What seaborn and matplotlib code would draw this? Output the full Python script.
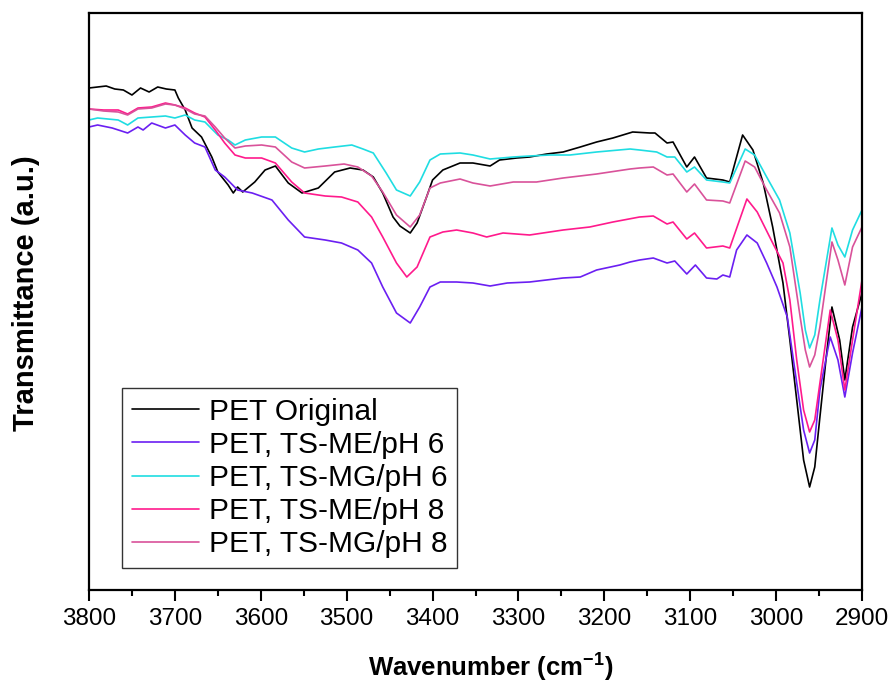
import matplotlib
matplotlib.use("Agg")
import matplotlib.pyplot as plt
from matplotlib.ticker import MultipleLocator
import pandas as pd
import seaborn as sns

# sample names and line colours (legend order)
labels = ["PET Original", "PET, TS-ME/pH 6", "PET, TS-MG/pH 6",
          "PET, TS-ME/pH 8", "PET, TS-MG/pH 8"]
colors = ["#000000", "#6B1FF2", "#1FDDE2", "#FF1A8C", "#D9529A"]

# spectra (wavenumber cm-1, transmittance a.u.)
wn_orig = [3800, 3790, 3780, 3770, 3760, 3750, 3740, 3730, 3720, 3710,
           3700, 3696, 3688, 3680, 3669, 3657, 3650, 3638, 3632, 3627,
           3621, 3607, 3595, 3583, 3568, 3552, 3533, 3514, 3496, 3481,
           3469, 3458, 3446, 3438, 3426, 3418, 3407, 3400, 3388, 3368,
           3353, 3333, 3322, 3302, 3287, 3267, 3248, 3228, 3209, 3190,
           3167, 3147, 3141, 3127, 3120, 3104, 3095, 3081, 3062, 3054,
           3039, 3027, 3015, 3004, 2992, 2984, 2976, 2968, 2961, 2955,
           2949, 2942, 2935, 2926, 2920, 2911, 2900]
t_orig = [502, 503, 504, 501, 500, 495, 502, 498, 503, 501,
          500, 492, 480, 462, 453, 433, 418, 405, 397, 403,
          398, 408, 420, 424, 407, 397, 402, 418, 422, 420,
          413, 397, 373, 364, 357, 367, 393, 410, 420, 427,
          427, 424, 430, 432, 433, 436, 438, 443, 448, 452,
          458, 457, 457, 447, 448, 423, 433, 412, 410, 408,
          455, 440, 407, 363, 307, 250, 190, 130, 103, 123,
          173, 230, 283, 250, 210, 263, 297]

wn_me6 = [3800, 3790, 3773, 3755, 3743, 3737, 3727, 3711, 3700, 3688,
          3677, 3665, 3653, 3642, 3627, 3610, 3587, 3568, 3549, 3525,
          3506, 3487, 3471, 3458, 3442, 3426, 3415, 3403, 3391, 3372,
          3353, 3333, 3313, 3287, 3248, 3228, 3209, 3182, 3170, 3159,
          3143, 3127, 3118, 3104, 3094, 3081, 3069, 3062, 3054, 3046,
          3034, 3022, 3011, 2999, 2987, 2976, 2968, 2961, 2955, 2949,
          2937, 2928, 2920, 2911, 2900]
t_me6 = [463, 465, 462, 457, 463, 460, 467, 462, 465, 455,
         447, 443, 420, 413, 400, 397, 390, 370, 353, 350,
         347, 340, 327, 303, 277, 267, 283, 303, 308, 308,
         307, 304, 307, 308, 312, 313, 320, 325, 328, 330,
         332, 327, 329, 316, 325, 312, 311, 315, 313, 340,
         355, 347, 327, 303, 273, 207, 160, 137, 150, 200,
         253, 230, 193, 237, 283]

wn_mg6 = [3800, 3790, 3766, 3755, 3743, 3727, 3711, 3700, 3688, 3677,
          3665, 3650, 3638, 3630, 3618, 3599, 3583, 3564, 3549, 3533,
          3514, 3494, 3481, 3469, 3454, 3442, 3426, 3415, 3403, 3391,
          3368, 3353, 3333, 3306, 3287, 3263, 3240, 3209, 3170, 3159,
          3139, 3127, 3118, 3104, 3095, 3081, 3062, 3054, 3036, 3025,
          3011, 2996, 2984, 2972, 2966, 2961, 2955, 2949, 2935, 2928,
          2920, 2911, 2900]
t_mg6 = [470, 472, 470, 465, 472, 473, 474, 472, 475, 470,
         468, 455, 450, 445, 450, 453, 453, 442, 438, 441,
         443, 445, 441, 437, 417, 400, 394, 408, 430, 436,
         437, 435, 431, 433, 434, 435, 435, 438, 441, 440,
         438, 433, 433, 418, 423, 410, 408, 407, 441, 435,
         413, 390, 357, 297, 260, 242, 255, 290, 362, 345,
         333, 360, 380]

wn_me8 = [3800, 3783, 3766, 3755, 3743, 3727, 3711, 3700, 3688, 3677,
          3665, 3653, 3642, 3630, 3618, 3599, 3583, 3564, 3549, 3525,
          3506, 3487, 3471, 3458, 3442, 3430, 3418, 3403, 3388, 3372,
          3353, 3337, 3318, 3287, 3248, 3217, 3190, 3159, 3143, 3127,
          3120, 3104, 3095, 3081, 3062, 3054, 3034, 3022, 3004, 2992,
          2984, 2976, 2968, 2961, 2955, 2949, 2937, 2928, 2920, 2911,
          2900]
t_me8 = [481, 480, 480, 476, 482, 483, 487, 485, 482, 477,
         473, 460, 447, 435, 432, 432, 427, 408, 397, 394,
         393, 388, 373, 353, 327, 313, 323, 353, 358, 360,
         357, 353, 357, 355, 360, 363, 368, 373, 374, 366,
         368, 351, 357, 342, 344, 342, 391, 378, 347, 327,
         290, 230, 180, 158, 170, 207, 280, 250, 200, 250,
         310]

wn_mg8 = [3800, 3783, 3766, 3755, 3743, 3727, 3711, 3700, 3688, 3677,
          3665, 3653, 3642, 3630, 3618, 3599, 3583, 3564, 3549, 3525,
          3503, 3487, 3471, 3458, 3442, 3426, 3415, 3403, 3391, 3368,
          3353, 3333, 3306, 3279, 3248, 3209, 3170, 3159, 3143, 3127,
          3120, 3104, 3095, 3081, 3062, 3054, 3036, 3025, 3011, 2996,
          2984, 2972, 2966, 2961, 2955, 2949, 2935, 2928, 2920, 2911,
          2900]
t_mg8 = [481, 479, 478, 475, 481, 482, 486, 485, 481, 476,
         474, 463, 452, 442, 444, 445, 443, 428, 422, 424,
         426, 423, 414, 398, 375, 363, 375, 402, 407, 411,
         407, 404, 408, 408, 412, 416, 421, 422, 423, 415,
         416, 398, 406, 390, 389, 387, 429, 423, 400, 377,
         343, 273, 240, 223, 235, 263, 348, 330, 305, 343,
         363]

series = [(wn_orig, t_orig), (wn_me6, t_me6), (wn_mg6, t_mg6),
          (wn_me8, t_me8), (wn_mg8, t_mg8)]
df = pd.concat([pd.DataFrame({"wn": wn, "T": t, "sample": name})
                for name, (wn, t) in zip(labels, series)], ignore_index=True)

sns.set_style("white")
plt.rcParams["font.family"] = ["Liberation Sans", "DejaVu Sans"]
plt.rcParams["mathtext.fontset"] = "custom"
plt.rcParams["mathtext.rm"] = "Liberation Sans"
plt.rcParams["mathtext.bf"] = "Liberation Sans:bold"
plt.rcParams["text.color"] = "black"
plt.rcParams["axes.labelcolor"] = "black"
plt.rcParams["xtick.color"] = "black"

fig = plt.figure(figsize=(8.91, 6.84), dpi=100)
ax = fig.add_axes([89 / 891, 94 / 684, 773 / 891, 577 / 684])

sns.lineplot(data=df, x="wn", y="T", hue="sample", hue_order=labels,
             palette=colors, estimator=None, sort=False, linewidth=1.2, ax=ax)

ax.set_xlim(3800, 2900)
ax.set_ylim(0, 577)
ax.xaxis.set_major_locator(MultipleLocator(100))
ax.xaxis.set_minor_locator(MultipleLocator(50))
ax.tick_params(axis="x", which="major", direction="out", length=8, width=1.5,
               labelsize=17.5, pad=5, bottom=True, colors="black")
ax.tick_params(axis="x", which="minor", direction="out", length=4, width=1.5,
               bottom=True, colors="black")
ax.set_yticks([])
for sp in ax.spines.values():
    sp.set_linewidth(1.6)
    sp.set_color("black")

ax.set_xlabel(r"Wavenumber (cm$^{\mathbf{-1}}$)", fontsize=18.5,
              fontweight="bold", color="black")
ax.xaxis.set_label_coords(0.52, -0.105)
ax.set_ylabel("Transmittance (a.u.)", fontsize=21, fontweight="bold",
              color="black")
ax.yaxis.set_label_coords(-0.063, 0.515)

handles, _ = ax.get_legend_handles_labels()
leg = ax.legend(handles, labels, loc="lower left",
                bbox_to_anchor=(33 / 773, 22 / 577), borderaxespad=0,
                fontsize=21.5, frameon=True, fancybox=False, edgecolor="black",
                handlelength=2.25, handletextpad=0.33, labelspacing=0.17,
                borderpad=0.33, labelcolor="black")
leg.get_frame().set_linewidth(1.0)

fig.savefig("out.png", dpi=100)
